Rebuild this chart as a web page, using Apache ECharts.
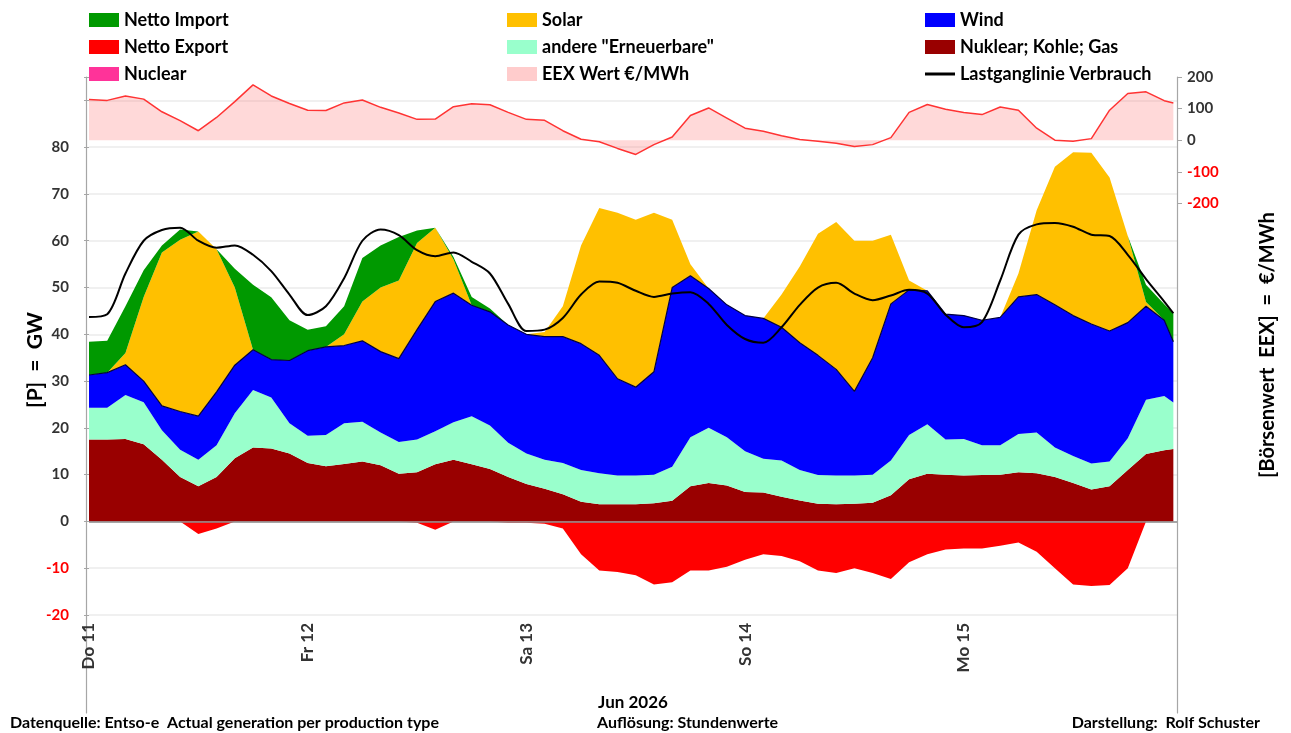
<!DOCTYPE html>
<html>
<head>
    <meta charset="utf-8">
    <title>Stromerzeugung Jun 2026</title>
    <script src="https://cdn.jsdelivr.net/npm/echarts@6/dist/echarts.min.js"></script>
    <style>
        html, body { margin: 0; padding: 0; background: #fff; }
        #chart { width: 1291px; height: 733px; }
    </style>
</head>
<body>
<div id="chart"></div>
<script type="text/javascript">
    // Stunden ab Do 11 00:00 (2-Stunden-Raster)
    var hours = [0, 2, 4, 6, 8, 10, 12, 14, 16, 18, 20, 22,
        24, 26, 28, 30, 32, 34, 36, 38, 40, 42, 44, 46,
        48, 50, 52, 54, 56, 58, 60, 62, 64, 66, 68, 70,
        72, 74, 76, 78, 80, 82, 84, 86, 88, 90, 92, 94,
        96, 98, 100, 102, 104, 106, 108, 110, 112, 114, 116, 118,
        119];
    var dayLabels = ['Do 11', 'Fr 12', 'Sa 13', 'So 14', 'Mo 15'];

    // GW
    var fossil = [17.5, 17.5, 17.6, 16.5, 13.2, 9.5, 7.5, 9.5, 13.5, 15.8, 15.6, 14.5,
        12.5, 11.8, 12.3, 12.8, 12.0, 10.2, 10.5, 12.2, 13.2, 12.2, 11.2, 9.5,
        8.0, 7.0, 5.8, 4.2, 3.7, 3.7, 3.7, 3.9, 4.4, 7.5, 8.2, 7.7,
        6.3, 6.2, 5.3, 4.5, 3.8, 3.7, 3.8, 4.0, 5.6, 9.0, 10.2, 10.0,
        9.8, 9.9, 10.0, 10.5, 10.3, 9.5, 8.2, 6.8, 7.5, 11.0, 14.4, 15.2,
        15.5];
    var erneuerbare = [6.8, 6.8, 9.4, 9.0, 6.3, 5.8, 5.7, 6.8, 9.6, 12.3, 10.9, 6.5,
        5.8, 6.7, 8.7, 8.5, 7.0, 6.8, 7.0, 7.1, 8.0, 10.3, 9.3, 7.3,
        6.5, 6.2, 6.7, 6.8, 6.6, 6.1, 6.1, 6.1, 7.3, 10.5, 11.8, 10.3,
        8.7, 7.2, 7.7, 6.5, 6.1, 6.1, 6.0, 6.0, 7.4, 9.5, 10.6, 7.5,
        7.8, 6.4, 6.3, 8.2, 8.7, 6.3, 5.8, 5.6, 5.3, 6.8, 11.6, 11.6,
        9.9];
    var wind = [7.0, 7.5, 6.5, 4.5, 5.2, 8.2, 9.3, 11.4, 10.3, 8.6, 8.1, 13.4,
        18.2, 18.8, 16.6, 17.3, 17.3, 17.8, 23.5, 27.7, 27.6, 23.7, 24.3, 25.2,
        25.5, 26.3, 27.0, 27.0, 25.2, 20.7, 18.9, 22.0, 38.3, 34.5, 29.8, 28.3,
        29.0, 30.0, 28.5, 27.2, 25.6, 22.7, 18.0, 25.0, 33.5, 31.0, 28.5, 26.8,
        26.4, 26.7, 27.3, 29.3, 29.5, 30.5, 30.0, 29.8, 27.9, 24.7, 20.0, 16.2,
        13.0];
    var solar = [0, 0, 2.5, 18.0, 32.8, 36.7, 39.5, 30.5, 16.6, 0, 0, 0,
        0, 0, 2.4, 8.4, 13.7, 16.7, 18.5, 15.8, 7.2, 0, 0, 0,
        0, 1.0, 6.5, 21.0, 31.5, 35.5, 35.8, 34.0, 14.5, 2.5, 0, 0,
        0, 0, 7.0, 16.3, 26.0, 31.5, 32.2, 25.0, 14.8, 2.0, 0, 0,
        0, 0, 0, 5.0, 18.0, 29.5, 34.9, 36.6, 32.8, 18.5, 0.9, 0,
        0];
    var nettoImport = [7.1, 6.8, 10.0, 5.7, 1.5, 2.2, 0, 0, 4.0, 13.9, 13.3, 8.6,
        4.5, 4.4, 6.0, 9.3, 9.0, 9.3, 2.7, 0, 0.5, 1.8, 0.7, 0,
        0, 0, 0, 0, 0, 0, 0, 0, 0, 0, 0, 0,
        0, 0, 0, 0, 0, 0, 0, 0, 0, 0, 0, 0,
        0, 0, 0, 0, 0, 0, 0, 0, 0, 0, 3.7, 3.4,
        6.1];
    var nettoExport = [0, 0, 0, 0, 0, 0, -2.7, -1.5, 0, 0, 0, 0,
        0, 0, 0, 0, 0, 0, -0.3, -1.8, 0, 0, 0, -0.3,
        -0.3, -0.5, -1.5, -7, -10.5, -10.8, -11.5, -13.5, -13, -10.5, -10.5, -9.7,
        -8.2, -7, -7.4, -8.5, -10.5, -11, -10, -11, -12.3, -8.7, -7, -6,
        -5.8, -5.8, -5.2, -4.5, -6.5, -10, -13.5, -13.8, -13.6, -10, 0, 0,
        0];
    var nuclear = [0, 0, 0, 0, 0, 0, 0, 0, 0, 0, 0, 0,
        0, 0, 0, 0, 0, 0, 0, 0, 0, 0, 0, 0,
        0, 0, 0, 0, 0, 0, 0, 0, 0, 0, 0, 0,
        0, 0, 0, 0, 0, 0, 0, 0, 0, 0, 0, 0,
        0, 0, 0, 0, 0, 0, 0, 0, 0, 0, 0, 0,
        0];
    var last = [43.7, 44.3, 53, 60, 62.3, 62.8, 60, 58.5, 59, 57, 53.5, 48.5,
        44.1, 46, 52, 60, 62.4, 61.2, 58, 56.7, 57.5, 55.5, 53, 46.5,
        40.7, 41, 43.5, 48.5, 51.3, 51, 49.3, 48, 48.7, 49, 46.5, 42,
        39, 38.2, 41.5, 46.3, 50, 51, 48.7, 47.3, 48.3, 49.5, 48.7, 44.2,
        41.5, 42.6, 51.5, 61.3, 63.5, 63.8, 63, 61.3, 61, 57, 51.8, 47,
        44.5];
    // EUR/MWh
    var preis = [129, 126, 140, 130, 90, 62, 30, 72, 122, 175, 140, 116,
        95, 94, 118, 127, 104, 86, 66, 67, 106, 115, 112, 88,
        66, 63, 30, 3, -5, -26, -45, -14, 10, 78, 102, 70,
        38, 28, 14, 2, -3, -10, -20, -14, 8, 88, 113, 98,
        88, 81, 105, 95, 38, 0, -3, 5, 95, 148, 153, 125,
        118];

    var FONT = 'Lato';
    var HOUR = 3600000;
    var t0 = new Date(2026, 5, 11).getTime();
    var tEnd = t0 + 119.4 * HOUR;

    function pairs(arr) {
        return hours.map(function (h, i) { return [t0 + h * HOUR, arr[i]]; });
    }

    function area(name, data, color, extra) {
        var s = {
            name: name,
            type: 'line',
            stack: 'gen',
            xAxisIndex: 0,
            yAxisIndex: 0,
            symbol: 'none',
            data: pairs(data),
            itemStyle: {color: color},
            lineStyle: {width: 0},
            areaStyle: {color: color, opacity: 1},
            z: 2
        };
        if (extra) {
            for (var k in extra) s[k] = extra[k];
        }
        return s;
    }

    var labelRich = {
        p: {color: '#333', fontWeight: 'bold', fontSize: 15, fontFamily: FONT},
        n: {color: '#ff0000', fontWeight: 'bold', fontSize: 15, fontFamily: FONT}
    };

    var legendText = {fontSize: 18, fontWeight: 'bold', color: '#000', fontFamily: FONT};
    var footText = {fontSize: 16, fontWeight: 'bold', fontFamily: FONT, fill: '#000'};

    var chart = echarts.init(document.getElementById('chart'));
    var option = {
        animation: false,
        backgroundColor: '#fff',
        legend: [{
            left: 89, top: 11, orient: 'vertical', padding: 0,
            itemWidth: 30, itemHeight: 14, itemGap: 9,
            textStyle: legendText, selectedMode: false,
            data: [{name: 'Netto Import', icon: 'rect'}, {name: 'Netto Export', icon: 'rect'},
                {name: 'Nuclear', icon: 'rect'}]
        }, {
            left: 507, top: 11, orient: 'vertical', padding: 0,
            itemWidth: 30, itemHeight: 14, itemGap: 9,
            textStyle: legendText, selectedMode: false,
            data: [{name: 'Solar', icon: 'rect'}, {name: 'andere "Erneuerbare"', icon: 'rect'},
                {name: 'EEX Wert €/MWh', icon: 'rect', itemStyle: {color: '#ffcccc'}}]
        }, {
            left: 925, top: 11, orient: 'vertical', padding: 0,
            itemWidth: 30, itemHeight: 14, itemGap: 9,
            textStyle: legendText, selectedMode: false,
            data: [{name: 'Wind', icon: 'rect'}, {name: 'Nuklear; Kohle; Gas', icon: 'rect'},
                {name: 'Lastganglinie Verbrauch', icon: 'path://M0,0 H30 V3 H0 Z', itemStyle: {color: '#000'}}]
        }],
        grid: [
            {left: 89, right: 114, top: 77, bottom: 118},
            {left: 89, right: 114, top: 77, height: 126.4},
            {left: 86, right: 114, top: 77, bottom: 20}
        ],
        xAxis: [{
            gridIndex: 0, type: 'time', min: t0, max: tEnd,
            minInterval: 24 * HOUR, maxInterval: 24 * HOUR,
            axisLine: {show: false, onZero: false},
            axisTick: {show: false},
            splitLine: {show: false},
            axisLabel: {
                rotate: 90, margin: 8, fontSize: 17, fontWeight: 'bold', color: '#333', fontFamily: FONT,
                hideOverlap: false,
                formatter: function (v) {
                    var d = Math.round((v - t0) / HOUR) / 24;
                    return d % 1 === 0 ? (dayLabels[d] || '') : '';
                }
            },
            name: 'Jun 2026', nameLocation: 'middle', nameGap: 79,
            nameTextStyle: {fontSize: 17, fontWeight: 'bold', color: '#000', fontFamily: FONT}
        }, {
            gridIndex: 1, type: 'time', min: t0, max: tEnd, show: false
        }, {
            gridIndex: 2, type: 'value', min: 0, max: 1, show: false
        }],
        yAxis: [{
            gridIndex: 0, type: 'value', position: 'left', min: -20, max: 95, interval: 10,
            axisLine: {show: false},
            axisTick: {show: true, length: 5, lineStyle: {color: '#a6a6a6'}},
            splitLine: {show: true, showMaxLine: false, lineStyle: {color: '#ebebeb', width: 1.5}},
            axisLabel: {
                margin: 20, rich: labelRich,
                formatter: function (v) {
                    if (v > 80) return '';
                    return v < 0 ? '{n|' + v + '}' : '{p|' + v + '}';
                }
            }
        }, {
            gridIndex: 1, type: 'value', position: 'right', min: -200, max: 200, interval: 100,
            axisLine: {show: false},
            axisTick: {show: true, length: 5, lineStyle: {color: '#a6a6a6'}},
            splitLine: {show: false},
            axisLabel: {
                margin: 10, rich: labelRich,
                formatter: function (v) {
                    return v < 0 ? '{n|' + v + '}' : '{p|' + v + '}';
                }
            }
        }, {
            gridIndex: 2, type: 'value', position: 'left', min: 0, max: 1,
            axisLine: {show: true, lineStyle: {color: '#a6a6a6', width: 1.2}},
            axisTick: {show: false}, axisLabel: {show: false}, splitLine: {show: false}
        }, {
            gridIndex: 2, type: 'value', position: 'right', min: 0, max: 1,
            axisLine: {show: true, lineStyle: {color: '#a6a6a6', width: 1.2}},
            axisTick: {show: false}, axisLabel: {show: false}, splitLine: {show: false}
        }],
        series: [
            area('Nuklear; Kohle; Gas', fossil, '#990000'),
            area('andere "Erneuerbare"', erneuerbare, '#99ffcc'),
            area('Wind', wind, '#0000ff', {lineStyle: {width: 1.2, color: '#000040'}}),
            area('Solar', solar, '#ffc000'),
            area('Netto Import', nettoImport, '#009900'),
            {
                name: 'Netto Export', type: 'line', xAxisIndex: 0, yAxisIndex: 0,
                symbol: 'none', data: pairs(nettoExport),
                itemStyle: {color: '#ff0000'}, lineStyle: {width: 0},
                areaStyle: {color: '#ff0000', opacity: 1}, z: 2,
                markLine: {
                    silent: true, symbol: ['none', 'none'], label: {show: false},
                    lineStyle: {color: '#8c8c8c', width: 1.5, type: 'solid'},
                    data: [{yAxis: 0}]
                }
            },
            {
                name: 'Nuclear', type: 'line', xAxisIndex: 0, yAxisIndex: 0,
                symbol: 'none', data: pairs(nuclear),
                itemStyle: {color: '#ff3399'}, lineStyle: {width: 0}, z: 1
            },
            {
                name: 'EEX Wert €/MWh', type: 'line', xAxisIndex: 1, yAxisIndex: 1,
                symbol: 'none', data: pairs(preis),
                itemStyle: {color: '#ff3333'},
                lineStyle: {color: '#ff3333', width: 1.5},
                areaStyle: {color: 'rgba(255, 120, 120, 0.4)'}, z: 3
            },
            {
                name: 'Lastganglinie Verbrauch', type: 'line', xAxisIndex: 0, yAxisIndex: 0,
                symbol: 'none', smooth: 0.3, data: pairs(last),
                itemStyle: {color: '#000'}, lineStyle: {color: '#000', width: 2}, z: 5
            }
        ],
        graphic: [
            {
                type: 'text', x: 35, y: 360, rotation: Math.PI / 2,
                style: {text: '[P]  =  GW', fontSize: 21, fontWeight: 'bold', fontFamily: FONT,
                    fill: '#000', textAlign: 'center', textVerticalAlign: 'middle'}
            },
            {
                type: 'text', x: 1268, y: 345, rotation: Math.PI / 2,
                style: {text: '[Börsenwert  EEX]  =  €/MWh', fontSize: 20, fontWeight: 'bold', fontFamily: FONT,
                    fill: '#000', textAlign: 'center', textVerticalAlign: 'middle'}
            },
            {
                type: 'text', left: 10, top: 715,
                style: echarts.util.extend({text: 'Datenquelle: Entso-e  Actual generation per production type'}, footText)
            },
            {
                type: 'text', left: 597, top: 715,
                style: echarts.util.extend({text: 'Auflösung: Stundenwerte'}, footText)
            },
            {
                type: 'text', right: 31, top: 715,
                style: echarts.util.extend({text: 'Darstellung:  Rolf Schuster'}, footText)
            }
        ]
    };
    chart.setOption(option);
</script>
</body>
</html>
